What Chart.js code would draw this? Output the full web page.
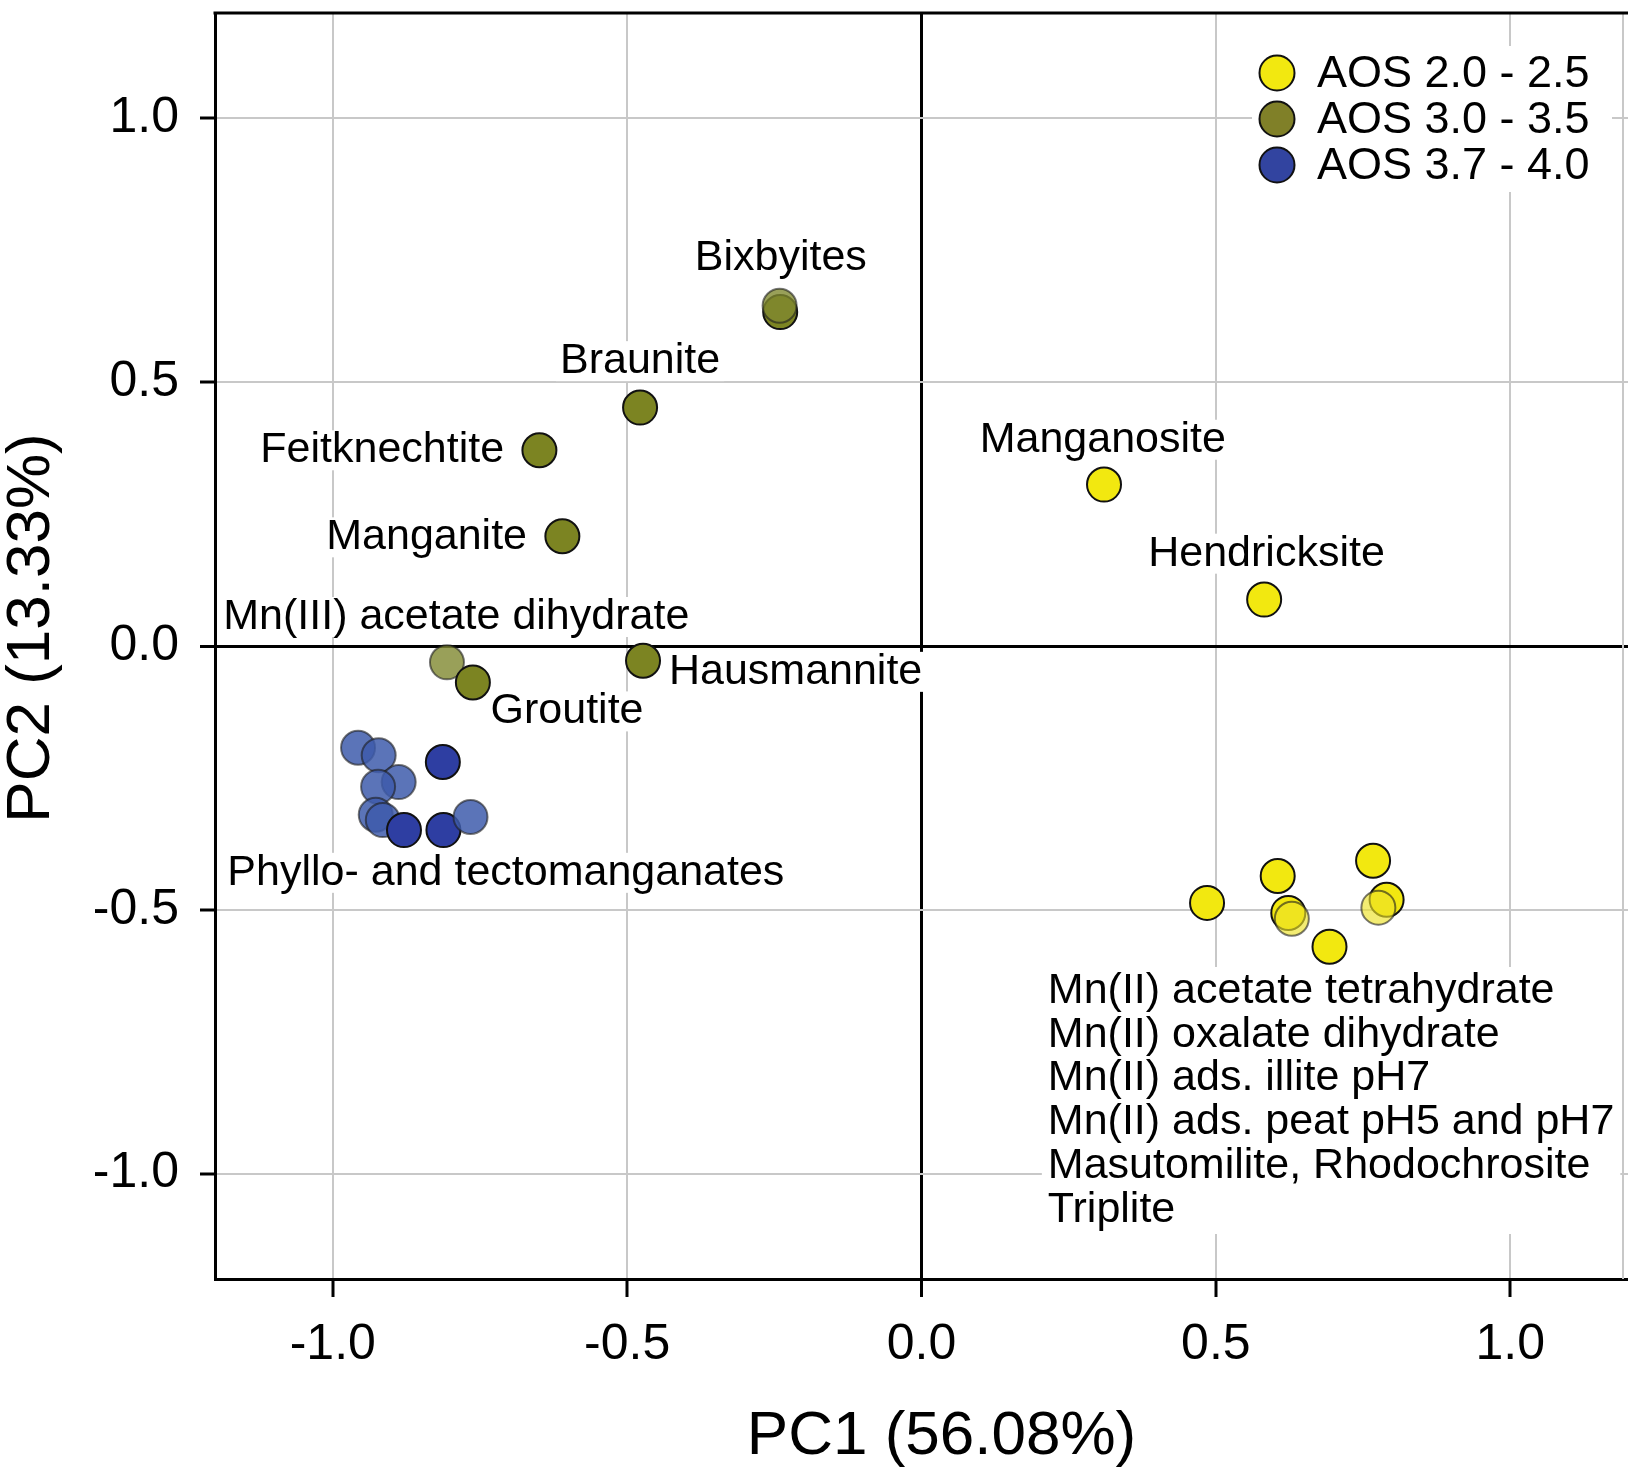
<!DOCTYPE html>
<html>
<head>
<meta charset="utf-8">
<title>PCA scores</title>
<script src="https://cdn.jsdelivr.net/npm/chart.js@4.4.1/dist/chart.umd.min.js"></script>
<style>
    body { margin: 0; background: #fff; }
    canvas { display: block; }
</style>
</head>
<body>
<canvas id="pca" width="1628" height="1469"></canvas>
<script>
// PCA scores, grouped by average oxidation state
let seriesNames = ['AOS 2.0 - 2.5', 'AOS 3.0 - 3.5', 'AOS 3.7 - 4.0'];
let xTitle = 'PC1 (56.08%)';
let yTitle = 'PC2 (13.33%)';

// AOS 2.0 - 2.5 : Manganosite, Hendricksite, then the Mn(II) cluster
let yellowPC1 = [0.310, 0.582, 0.485, 0.605, 0.623, 0.693, 0.767, 0.790, 0.629, 0.776];
let yellowPC2 = [0.306, 0.088, -0.487, -0.436, -0.506, -0.570, -0.407, -0.481, -0.517, -0.496];
let yellowFaded = [false, false, false, false, false, false, false, false, true, true];

// AOS 3.0 - 3.5 : Mn(III) acetate, Bixbyites x2, Braunite, Feitknechtite, Manganite, Hausmannite, Groutite
let olivePC1 = [-0.806, -0.240, -0.241, -0.478, -0.649, -0.610, -0.473, -0.762];
let olivePC2 = [-0.031, 0.633, 0.645, 0.452, 0.371, 0.208, -0.028, -0.069];
let oliveFaded = [true, false, true, false, false, false, false, false];

// AOS 3.7 - 4.0 : phyllo- and tectomanganates
let bluePC1 = [-0.957, -0.922, -0.888, -0.923, -0.927, -0.915, -0.879, -0.813, -0.812, -0.766];
let bluePC2 = [-0.193, -0.207, -0.258, -0.267, -0.320, -0.330, -0.349, -0.220, -0.349, -0.324];
let blueFaded = [true, true, true, true, true, true, false, false, false, true];

let tickValues = [-1.0, -0.5, 0.0, 0.5, 1.0];

// text next to the points: [text, pc1, pc2, align]
let pointNotes = [
    ['Bixbyites', -0.239, 0.735, 'center'],
    ['Braunite', -0.478, 0.540, 'center'],
    ['Feitknechtite', -0.709, 0.371, 'right'],
    ['Manganite', -0.670, 0.206, 'right'],
    ['Mn(III) acetate dihydrate', -1.186, 0.055, 'left'],
    ['Hausmannite', -0.429, -0.049, 'left'],
    ['Groutite', -0.732, -0.124, 'left'],
    ['Phyllo- and tectomanganates', -1.179, -0.430, 'left'],
    ['Manganosite', 0.308, 0.391, 'center'],
    ['Hendricksite', 0.586, 0.175, 'center']
];
let clusterNote = [
    'Mn(II) acetate tetrahydrate',
    'Mn(II) oxalate dihydrate',
    'Mn(II) ads. illite pH7',
    'Mn(II) ads. peat pH5 and pH7',
    'Masutomilite, Rhodochrosite',
    'Triplite'
];

let fontFamily = '"Liberation Sans", Arial, Helvetica, sans-serif';
let noteFont = '43px ' + fontFamily;

let yellow = 'rgb(242, 232, 16)';
let olive = 'rgb(124, 132, 34)';
let blue = 'rgb(46, 62, 162)';
let colors = {
    yellow: [yellow, 'rgba(236, 226, 40, 0.65)'],
    olive: [olive, 'rgba(128, 136, 48, 0.8)'],
    blue: [blue, 'rgba(62, 92, 172, 0.85)']
};

function toPoints(xs, ys) {
    let pts = [];
    for (var i = 0; i < xs.length; i++) {
        pts.push({x: xs[i], y: ys[i]});
    }
    return pts;
}

function makeDataset(label, xs, ys, faded, pair) {
    return {
        label: label,
        data: toPoints(xs, ys),
        pointRadius: 17,
        pointHoverRadius: 17,
        pointBorderWidth: 2,
        pointBackgroundColor: c => faded[c.dataIndex] ? pair[1] : pair[0],
        pointBorderColor: c => faded[c.dataIndex] ? 'rgba(30, 30, 30, 0.6)' : '#111'
    };
}

function noteBox(ctx, text, x, y, align) {
    let w = ctx.measureText(text).width;
    let left = align === 'left' ? x : (align === 'right' ? x - w : x - w / 2);
    ctx.fillStyle = '#fff';
    ctx.fillRect(left - 4, y - 20, w + 8, 40);
    ctx.fillStyle = '#000';
    ctx.textAlign = align;
    ctx.fillText(text, x, y);
}

// top and right edges of the plot frame
let framePlugin = {
    id: 'frame',
    beforeDatasetsDraw(chart) {
        let ctx = chart.ctx, a = chart.chartArea;
        ctx.save();
        ctx.strokeStyle = '#c8c8c8';
        ctx.lineWidth = 2;
        ctx.beginPath();
        ctx.moveTo(a.right - 5, a.top);
        ctx.lineTo(a.right - 5, a.bottom);
        ctx.stroke();
        ctx.strokeStyle = '#000';
        ctx.lineWidth = 3;
        ctx.beginPath();
        ctx.moveTo(a.left - 1.5, a.top);
        ctx.lineTo(chart.width, a.top);
        ctx.stroke();
        ctx.restore();
    }
};

let notesPlugin = {
    id: 'notes',
    beforeDatasetsDraw(chart) {
        let ctx = chart.ctx, sx = chart.scales.x, sy = chart.scales.y;
        ctx.save();
        ctx.font = noteFont;
        ctx.textBaseline = 'middle';
        pointNotes.forEach(n => {
            noteBox(ctx, n[0], sx.getPixelForValue(n[1]), sy.getPixelForValue(n[2]), n[3]);
        });
        // block of names for the Mn(II) cluster
        let x0 = sx.getPixelForValue(0.2146);
        let y0 = sy.getPixelForValue(-0.654);
        let lineGap = 43.8;
        let widest = Math.max(...clusterNote.map(t => ctx.measureText(t).width));
        ctx.fillStyle = '#fff';
        ctx.fillRect(x0 - 6, y0 - 24, widest + 12, lineGap * (clusterNote.length - 1) + 48);
        ctx.fillStyle = '#000';
        ctx.textAlign = 'left';
        clusterNote.forEach((t, i) => ctx.fillText(t, x0, y0 + i * lineGap));
        ctx.restore();
    }
};

let legendPlugin = {
    id: 'cornerLegend',
    afterDatasetsDraw(chart) {
        let ctx = chart.ctx;
        let swatches = [yellow, 'rgb(128, 128, 40)', 'rgb(50, 68, 160)'];
        ctx.save();
        ctx.fillStyle = '#fff';
        ctx.fillRect(1252, 46, 360, 146);
        ctx.font = '45px ' + fontFamily;
        ctx.textBaseline = 'middle';
        ctx.textAlign = 'left';
        chart.data.datasets.forEach((ds, i) => {
            let y = 73 + i * 46;
            ctx.beginPath();
            ctx.arc(1277, y, 17.5, 0, Math.PI * 2);
            ctx.fillStyle = swatches[i];
            ctx.fill();
            ctx.lineWidth = 2;
            ctx.strokeStyle = '#111';
            ctx.stroke();
            ctx.fillStyle = '#000';
            ctx.fillText(ds.label, 1317, y + 2);
        });
        ctx.restore();
    }
};

// axis titles sit a little off the centre of the plot
let titlesPlugin = {
    id: 'axisTitles',
    afterDraw(chart) {
        let ctx = chart.ctx, a = chart.chartArea;
        ctx.save();
        ctx.font = '62px ' + fontFamily;
        ctx.fillStyle = '#000';
        ctx.textAlign = 'center';
        ctx.textBaseline = 'middle';
        ctx.fillText(xTitle, (a.left + a.right) / 2 + 20, 1437);
        ctx.translate(32, (a.top + a.bottom) / 2 - 18);
        ctx.rotate(-Math.PI / 2);
        ctx.fillText(yTitle, 0, 0);
        ctx.restore();
    }
};

function axisOptions(isX) {
    return {
        type: 'linear',
        min: -1.2,
        max: 1.2,
        afterBuildTicks: s => { s.ticks = tickValues.map(v => ({value: v})); },
        afterFit: s => {
            // no extra room for end labels; the frame runs to the edges
            if (isX) {
                s.height = 190;
                s.paddingLeft = 0;
                s.paddingRight = 0;
            } else {
                s.width = 215;
                s.paddingTop = 0;
                s.paddingBottom = 0;
            }
        },
        ticks: {
            color: '#000',
            padding: isX ? 18 : 21,
            font: {family: fontFamily, size: 50},
            callback: v => v.toFixed(1)
        },
        grid: {
            color: c => c.tick && c.tick.value === 0 ? '#000' : '#c8c8c8',
            lineWidth: c => c.tick && c.tick.value === 0 ? 3 : 2,
            tickColor: '#000',
            tickWidth: 3,
            tickLength: isX ? 18 : 15
        },
        border: {color: '#000', width: 3},
        title: {display: false}
    };
}

let ctx = document.getElementById('pca').getContext('2d');
let pcaChart = new Chart(ctx, {
    type: 'scatter',
    data: {
        datasets: [
            makeDataset(seriesNames[0], yellowPC1, yellowPC2, yellowFaded, colors.yellow),
            makeDataset(seriesNames[1], olivePC1, olivePC2, oliveFaded, colors.olive),
            makeDataset(seriesNames[2], bluePC1, bluePC2, blueFaded, colors.blue)
        ]
    },
    options: {
        responsive: false,
        animation: false,
        layout: {autoPadding: false, padding: {top: 13, right: 0, left: 0, bottom: 0}},
        plugins: {legend: {display: false}, tooltip: {enabled: false}},
        scales: {
            x: axisOptions(true),
            y: axisOptions(false)
        }
    },
    plugins: [framePlugin, notesPlugin, legendPlugin, titlesPlugin]
});
</script>
</body>
</html>
